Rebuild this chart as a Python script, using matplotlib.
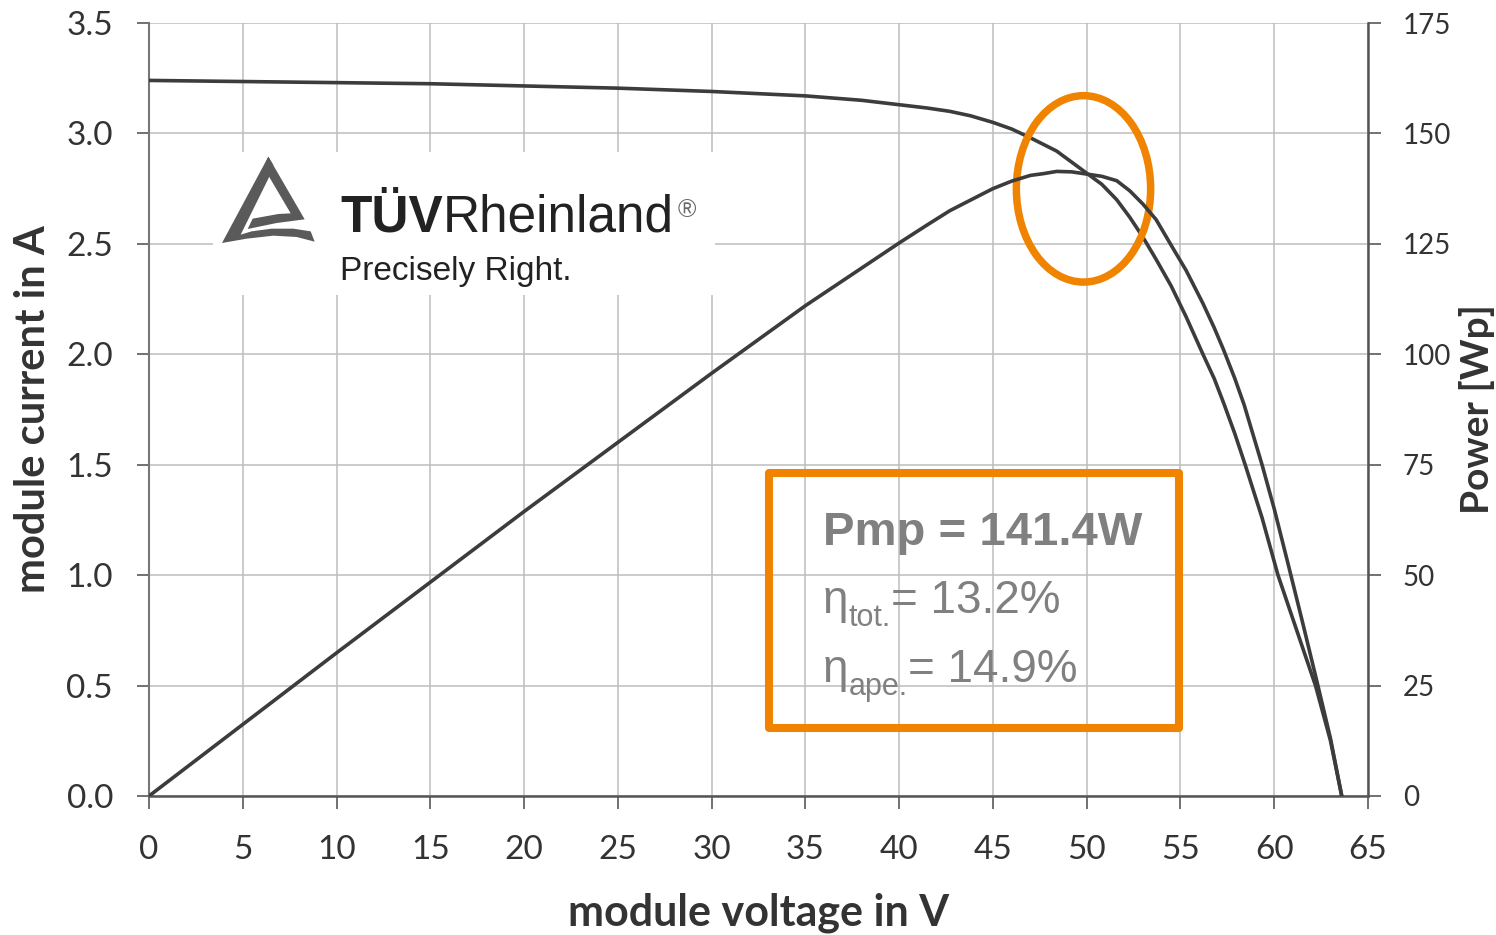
import matplotlib
matplotlib.use("Agg")
from matplotlib import pyplot as plt
from matplotlib.patches import Ellipse, Rectangle, Polygon

W, H = 1496, 935

# I-V curve
iv_voltage = [0, 5, 10, 15, 20, 25, 30, 35, 38, 40, 41.5, 42.7, 43.8, 45, 46, 47, 47.7, 48.4, 49.2, 50,
              50.8, 51.6, 52.3, 53.0, 53.7, 54.5, 55.3, 56.2, 56.8, 57.3, 57.9, 58.45, 59.35, 60.2,
              61.2, 62.2, 63.0, 63.6]
iv_current = [3.24, 3.235, 3.23, 3.225, 3.215, 3.205, 3.19, 3.17, 3.15, 3.13, 3.115, 3.10, 3.08, 3.05, 3.02,
              2.98, 2.95, 2.92, 2.87, 2.82, 2.77, 2.70, 2.62, 2.53, 2.43, 2.31, 2.17, 2.00, 1.89, 1.78,
              1.64, 1.50, 1.26, 1.00, 0.75, 0.50, 0.25, 0.0]

# P-V curve
pv_voltage = [0, 10, 20, 30, 35, 40, 41.5, 42.7, 43.8, 45, 46, 47, 47.7, 48.4, 49.2, 50, 50.8, 51.6,
              52.3, 53.0, 53.7, 54.6, 55.3, 56.2, 56.8, 57.3, 57.9, 58.4, 59.35, 60.0, 60.8, 61.5,
              62.3, 63.0, 63.6]
pv_power = [0, 32.4, 64.4, 95.7, 111.0, 125.2, 129.3, 132.5, 134.9, 137.5, 139.2, 140.5, 140.9, 141.4,
            141.3, 140.8, 140.3, 139.3, 137.0, 134.0, 130.5, 124.0, 119.0, 111.5, 106.0, 101.0, 94.5,
            88.5, 75.0, 65.0, 51.5, 39.5, 25.5, 13.0, 0.0]

x_ticks = list(range(0, 66, 5))
i_ticks = [0.0, 0.5, 1.0, 1.5, 2.0, 2.5, 3.0, 3.5]
p_ticks = [0, 25, 50, 75, 100, 125, 150, 175]

pmp_text = "Pmp = 141.4W"
eta_lines = [("tot.", "= 13.2%"), ("ape.", "= 14.9%")]

ORANGE = "#F08300"
CURVE = "#3c3c3c"
TXT = "#333333"


def fx(px):
    return px / W


def fy(py):
    return 1 - py / H


plt.rcParams["font.family"] = ["Lato", "DejaVu Sans"]

fig = plt.figure(figsize=(W / 100, H / 100), dpi=100)
ax = fig.add_axes([fx(149), fy(796), (1368 - 149) / W, (796 - 23) / H])
ax2 = ax.twinx()

ax.set_axisbelow(True)
ax.grid(True, color="#bdbdbd", lw=1.1)
ax.plot(iv_voltage, iv_current, color=CURVE, lw=2.6, zorder=3, solid_joinstyle="round")
ax2.plot(pv_voltage, pv_power, color=CURVE, lw=2.6, zorder=3, solid_joinstyle="round")

ax.set_xlim(0, 65)
ax.set_ylim(0, 3.5)
ax2.set_ylim(0, 175)
ax.set_xticks(x_ticks)
ax.set_yticks(i_ticks)
ax.set_yticklabels([f"{v:.1f}" for v in i_ticks])
ax2.set_yticks(p_ticks)

ax.spines["top"].set_visible(False)
ax.spines["right"].set_visible(False)
ax.spines["left"].set_color("#777777")
ax.spines["bottom"].set_color("#555555")
ax.spines["left"].set_linewidth(1.5)
ax.spines["bottom"].set_linewidth(1.8)
for s in ["top", "left", "bottom"]:
    ax2.spines[s].set_visible(False)
ax2.spines["right"].set_color("#555555")
ax2.spines["right"].set_linewidth(1.8)

ax.tick_params(axis="y", direction="out", length=9, width=1.3, color="#666666",
               labelsize=24, labelcolor=TXT, pad=17)
ax.tick_params(axis="x", direction="out", length=9, width=1.3, color="#666666",
               labelsize=24, labelcolor=TXT, pad=19)
ax2.tick_params(axis="y", direction="out", length=9, width=1.3, color="#666666",
                labelsize=20, labelcolor=TXT, pad=16)

ax.set_xlabel("module voltage in V", fontsize=31, fontweight="bold", color=TXT, labelpad=20)
ax.set_ylabel("module current in A", fontsize=30, fontweight="bold", color=TXT, labelpad=10)
ax2.set_ylabel("Power [Wp]", fontsize=28, fontweight="bold", color=TXT, labelpad=6)

# white logo panel
ax.add_patch(Rectangle((fx(213), fy(295)), fx(715) - fx(213), fy(152) - fy(295),
                       transform=fig.transFigure, facecolor="white", edgecolor="none", zorder=1))

# logo triangle
lax = fig.add_axes([fx(210), fy(255), 120 / W, 105 / H])
lax.set_xlim(0, 360)
lax.set_ylim(315, 0)
lax.axis("off")
left_part = [(175, 20), (36, 279), (110, 266), (190, 257), (260, 261), (314, 275), (302, 244),
             (250, 236), (185, 236), (125, 244), (92, 254), (180, 76), (190, 45)]
right_part = [(175, 20), (284, 208), (200, 219), (113, 237), (128, 206), (205, 192), (242, 190),
              (176, 78), (165, 42)]
for pts in (left_part, right_part):
    lax.add_patch(Polygon(pts, closed=True, facecolor="#5a5a5a", edgecolor="none"))

logo_font = ["Liberation Sans", "DejaVu Sans"]
t1 = fig.text(fx(340), fy(232), "TÜV", fontsize=37, fontweight="bold", color="#222222",
              family=logo_font, va="baseline")
t2 = ax.annotate("Rheinland", xy=(1, 0), xycoords=t1, fontsize=37, color="#222222",
                 family=logo_font, va="bottom", ha="left", annotation_clip=False)
ax.annotate("®", xy=(1, 1), xycoords=t2, xytext=(3, -3), textcoords="offset points",
            fontsize=18, color="#666666", family=logo_font, va="top", ha="left", annotation_clip=False)
fig.text(fx(340), fy(280), "Precisely Right.", fontsize=24, color="#222222", family=logo_font, va="baseline")

# orange highlight ellipse and result box
ax.add_patch(Ellipse((49.83, 2.749), 7.16, 0.844, fill=False, edgecolor=ORANGE, lw=5.4,
                     zorder=5, clip_on=False))
ax.add_patch(Rectangle((33.07, 0.306), 54.93 - 33.07, 1.462 - 0.306, fill=False, edgecolor=ORANGE,
                       lw=5.8, zorder=5, joinstyle="round"))

GRAY = "#808080"
fig.text(fx(823), fy(545), pmp_text, fontsize=34, fontweight="bold", color=GRAY,
         family=logo_font, va="baseline")
for (sub, rest), base in zip(eta_lines, [613, 682]):
    te = fig.text(fx(823), fy(base), "η", fontsize=33, color=GRAY, family=logo_font, va="baseline")
    ts = ax.annotate(sub, xy=(1, 0), xycoords=te, xytext=(0, -2), textcoords="offset points",
                     fontsize=22, color=GRAY, family=logo_font, va="baseline", ha="left",
                     annotation_clip=False)
    ax.annotate(rest, xy=(1, 0), xycoords=(ts, te), fontsize=33, color=GRAY, family=logo_font,
                va="bottom", ha="left", annotation_clip=False)

plt.savefig("out.png", dpi=100)
